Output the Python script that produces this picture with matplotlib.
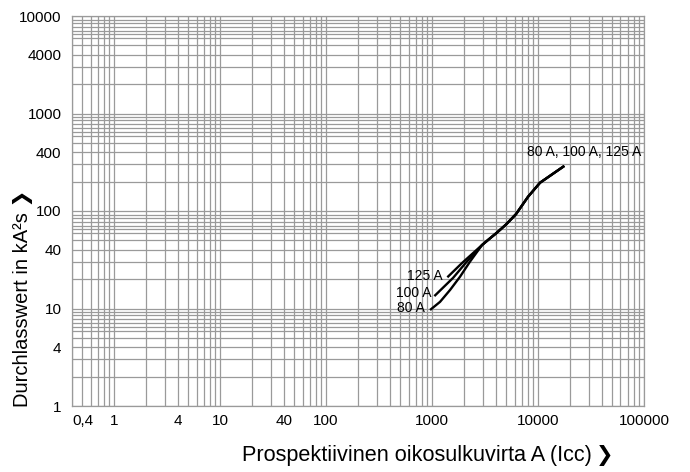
import numpy as np
import matplotlib.pyplot as plt
from matplotlib.ticker import FixedLocator, NullFormatter

plt.rcParams['font.family'] = ['Liberation Sans', 'DejaVu Sans']

# shared part of the three curves (A, kA2s)
x_common = [2964, 3525, 4077, 4990, 6200, 8050, 10440, 17700]
y_common = [44.8, 52.5, 59.8, 72.7, 93, 140, 195, 290]

# separate starts
x_80 = [957, 1189, 1479, 1837, 2282]
y_80 = [9.65, 11.7, 15.5, 21.2, 30.3]
x_100 = [1051, 1578, 2125]
y_100 = [13.4, 20.6, 30.2]
x_125 = [1394, 1906]
y_125 = [20.9, 29.1]

xticks = [0.4, 1, 4, 10, 40, 100, 1000, 10000, 100000]
xticklabels = ['0,4', '1', '4', '10', '40', '100', '1000', '10000', '100000']
yticks = [1, 4, 10, 40, 100, 400, 1000, 4000, 10000]
yticklabels = ['1', '4', '10', '40', '100', '400', '1000', '4000', '10000']

gridc = '#9a9a9a'

fig = plt.figure(figsize=(6.9, 4.72), dpi=100)
ax = fig.add_axes([72/690, 1-406/472, (644-72)/690, (406-16)/472])
ax.set_xscale('log')
ax.set_yscale('log')
ax.set_xlim(0.4, 100000)
ax.set_ylim(1, 10000)

# grid lines like the printed chart
xminor = [m * 10.**e for e in range(-1, 5) for m in range(2, 10)]
yminor = [m * 10.**e for e in range(0, 4) for m in [2, 3, 4, 5, 5.9, 6.5, 7.1, 7.8, 8.5, 9.2]]
ax.xaxis.set_minor_locator(FixedLocator(xminor))
ax.yaxis.set_minor_locator(FixedLocator(yminor))
ax.xaxis.set_minor_formatter(NullFormatter())
ax.yaxis.set_minor_formatter(NullFormatter())
ax.set_xticks(xticks)
ax.set_xticklabels(xticklabels)
ax.set_yticks(yticks)
ax.set_yticklabels(yticklabels)
ax.grid(True, which='both', color=gridc, linewidth=0.9)
ax.set_axisbelow(True)
ax.tick_params(which='both', length=0)
ax.tick_params(axis='y', pad=7.5, labelsize=11)
ax.tick_params(axis='x', pad=6, labelsize=11)
ax.get_xticklabels()[0].set_horizontalalignment('left')
for s in ax.spines.values():
    s.set_color(gridc)
    s.set_linewidth(0.9)

for xs, ys in [(x_80, y_80), (x_100, y_100), (x_125, y_125)]:
    ax.plot(xs + x_common, ys + y_common, color='black', lw=1.7,
            solid_capstyle='butt', solid_joinstyle='round')

ax.annotate('125 A', xy=(x_125[0], y_125[0]), xytext=(-3.3, 1.2), textcoords='offset points',
            ha='right', va='center', fontsize=10)
ax.annotate('100 A', xy=(x_100[0], y_100[0]), xytext=(-2.4, 2.2), textcoords='offset points',
            ha='right', va='center', fontsize=10)
ax.annotate('80 A', xy=(x_80[0], y_80[0]), xytext=(-3.6, 1.2), textcoords='offset points',
            ha='right', va='center', fontsize=10)
ax.annotate('80 A, 100 A, 125 A', xy=(x_common[-1], y_common[-1]), xytext=(14.5, 10),
            textcoords='offset points', ha='center', va='center', fontsize=10)

fig.text(242/690, 1-456/472, 'Prospektiivinen oikosulkuvirta A (Icc)',
         ha='left', va='center', fontsize=15.6)
fig.text(596/690, 1-456/472, '\u276f', ha='left', va='center', fontsize=15,
         fontweight='bold', family=['DejaVu Sans'])
fig.text(23/690, 1-407/472, 'Durchlasswert in kA\u00b2s \u276f', rotation=90,
         ha='center', va='bottom', fontsize=14.5)

plt.savefig('out.png', dpi=100)
